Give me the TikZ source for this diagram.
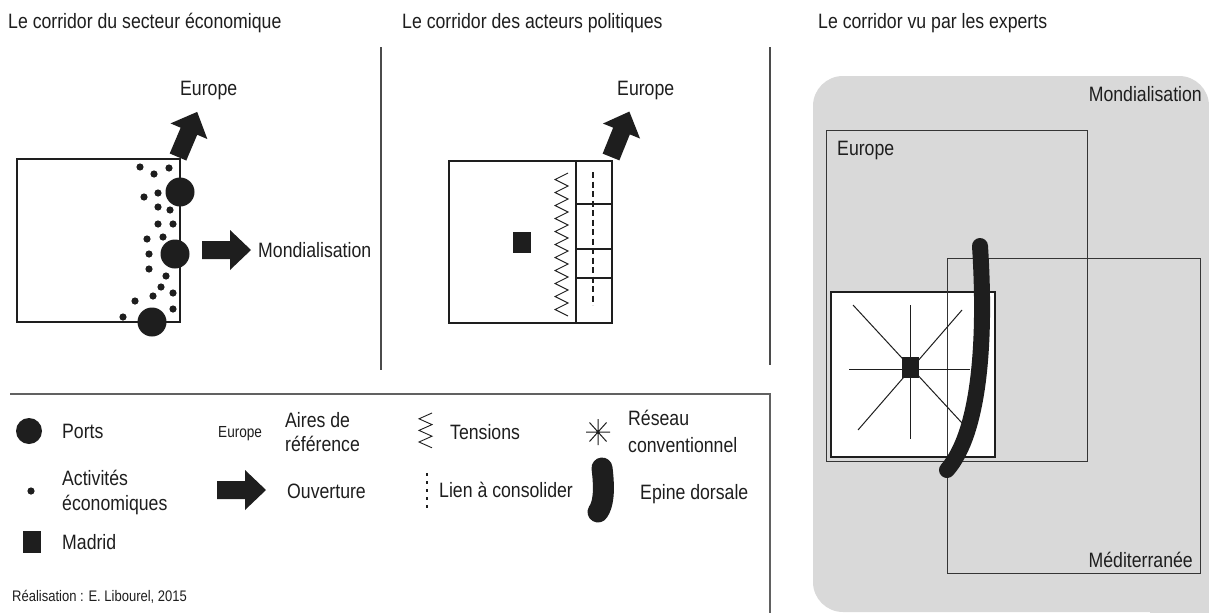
\documentclass[tikz,border=0pt]{standalone}
\usepackage{fontspec}
\setmainfont{Liberation Sans}[FakeStretch=0.85]
\definecolor{panelgrey}{RGB}{217,217,217}
\definecolor{ink}{RGB}{30,30,30}
\tikzset{
  txt/.style={inner sep=0pt, anchor=base west, text=ink, font=\fontsize{20.8}{24}\selectfont},
  txtr/.style={txt, anchor=base east},
  smalltxt/.style={inner sep=0pt, anchor=base west, text=ink, font=\fontsize{16}{19}\selectfont},
  credit/.style={inner sep=0pt, anchor=base west, text=ink, font=\fontsize{15.3}{18}\selectfont},
  frame/.style={draw=ink, line width=2pt},
  thinrect/.style={draw=ink!90, line width=1pt},
  sepline/.style={draw=ink!80, line width=1.2pt},
  legline/.style={draw=ink!70, line width=1.5pt},
  spine/.style={draw=ink, line cap=round},
  fatarrow/.pic={\fill[ink] (0,-9) -- (28,-9) -- (28,-20) -- (49,0) -- (28,20) -- (28,9) -- (0,9) -- cycle;}
}
\begin{document}
\begin{tikzpicture}[x=1pt,y=-1pt]
\useasboundingbox (0,0) rectangle (1209,613);
\fill[white] (0,0) rectangle (1209,613);

% ---------- titles
\node[txt] (t1) at (8,28.5) {Le corridor du secteur économique};
\node[txt] (t2) at (402,28.5) {Le corridor des acteurs politiques};
\node[txt] (t3) at (818,28.5) {Le corridor vu par les experts};

% ---------- separators
\draw[sepline] (381,47) -- (381,370);
\draw[sepline] (770,47) -- (770,365);

% ---------- panel 1
\draw[frame] (17,159) rectangle (180,322);
\foreach \x/\y in {140/167,154/174,169/168,144/197,158/193,158/207,170/210,158/224,173/224,147/239,163/237,149/254,149/269,166/276,161/287,173/293,153/296,135/301,173/309,123/317}
  \fill[ink] (\x,\y) circle (3.6);
\fill[ink] (180,192) circle (14.5);
\fill[ink] (175,254) circle (14.5);
\fill[ink] (152,322) circle (14.5);
\pic[rotate=67] at (178,157) {fatarrow};
\pic at (202,250) {fatarrow};
\node[txt] (eu1) at (180,95.5) {Europe};
\node[txt] (mo1) at (258,257.5) {Mondialisation};

% ---------- panel 2
\draw[frame] (449,161) rectangle (612,323);
\draw[frame] (576,161) -- (576,323);
\draw[frame] (576,204) -- (612,204);
\draw[frame] (576,249) -- (612,249);
\draw[frame] (576,278) -- (612,278);
\draw[ink, line width=2.3pt, dash pattern=on 6pt off 3.5pt] (593,172) -- (593,305);
\draw[ink, line width=0.9pt, line join=miter] (568,173)
  \foreach \i in {0,...,10} { -- (555,{173+13*\i+6.5}) -- (568,{173+13*(\i+1)}) };
\fill[ink] (513,232) rectangle (531,253);
\pic[rotate=68] at (611,157) {fatarrow};
\node[txt] (eu2) at (617,95.5) {Europe};

% ---------- panel 3
\fill[panelgrey, rounded corners=30pt] (813,76) rectangle (1209,612);
\fill[panelgrey] (1150,540) rectangle (1209,613);
\filldraw[fill=white, draw=ink, line width=2.5pt] (831,292) rectangle (995,457);
\draw[thinrect] (947,258) rectangle (1200,573);
\draw[thinrect] (826,130) rectangle (1087,461);
\draw[ink, line width=1pt] (849,369) -- (970,369);
\draw[ink, line width=1pt] (910,305) -- (910,439);
\draw[ink, line width=1pt] (853,305) -- (962,423);
\draw[ink, line width=1pt] (962,310) -- (858,430);
\fill[ink] (902,357) rectangle (919,378);
\draw[spine, line width=16pt] (980,246) .. controls (986,340) and (980,432) .. (947,470);
\node[txtr] (mo3) at (1202,101.5) {Mondialisation};
\node[txt] (eu3) at (837,155.5) {Europe};
\node[txtr] (me3) at (1193,567) {Méditerranée};

% ---------- legend
\draw[legline] (10,394) -- (770,394) -- (770,613);
\fill[ink] (29,431) circle (13);
\node[txt] (lports) at (62,438.5) {Ports};
\node[smalltxt] (leu) at (218,437.7) {Europe};
\node[txt] (laires) at (285,427.5) {Aires de};
\node[txt] (lref) at (285,451.5) {référence};
\draw[ink, line width=0.9pt] (432,413) -- (419,418.8) -- (432,424.6) -- (419,430.4) -- (432,436.2) -- (419,442) -- (432,447.8);
\node[txt] (lten) at (450,439.5) {Tensions};
\draw[ink, line width=1pt] (598,419) -- (598,445) (586,432) -- (610,432) (589.5,422.5) -- (606.5,441.5) (589.5,441.5) -- (606.5,422.5);
\node[txt] (lres) at (628,425.5) {Réseau};
\node[txt] (lconv) at (628,452.5) {conventionnel};
\fill[ink] (31,491) circle (3.6);
\node[txt] (lact) at (62,485.5) {Activités};
\node[txt] (leco) at (62,510.5) {économiques};
\pic at (217,490) {fatarrow};
\node[txt] (louv) at (287,498.5) {Ouverture};
\draw[ink, line width=2.5pt, dash pattern=on 3pt off 5pt] (427,473) -- (427,509);
\node[txt] (llien) at (439,497.5) {Lien à consolider};
\draw[spine, line width=21pt] (602,468) .. controls (605,492) and (603,505) .. (598,512);
\node[txt] (lepi) at (640,499.5) {Epine dorsale};
\fill[ink] (23,531) rectangle (41,553);
\node[txt] (lmad) at (62,549.5) {Madrid};
\node[credit] (real) at (12,601.5) {Réalisation : E. Libourel, 2015};
\end{tikzpicture}
\end{document}
